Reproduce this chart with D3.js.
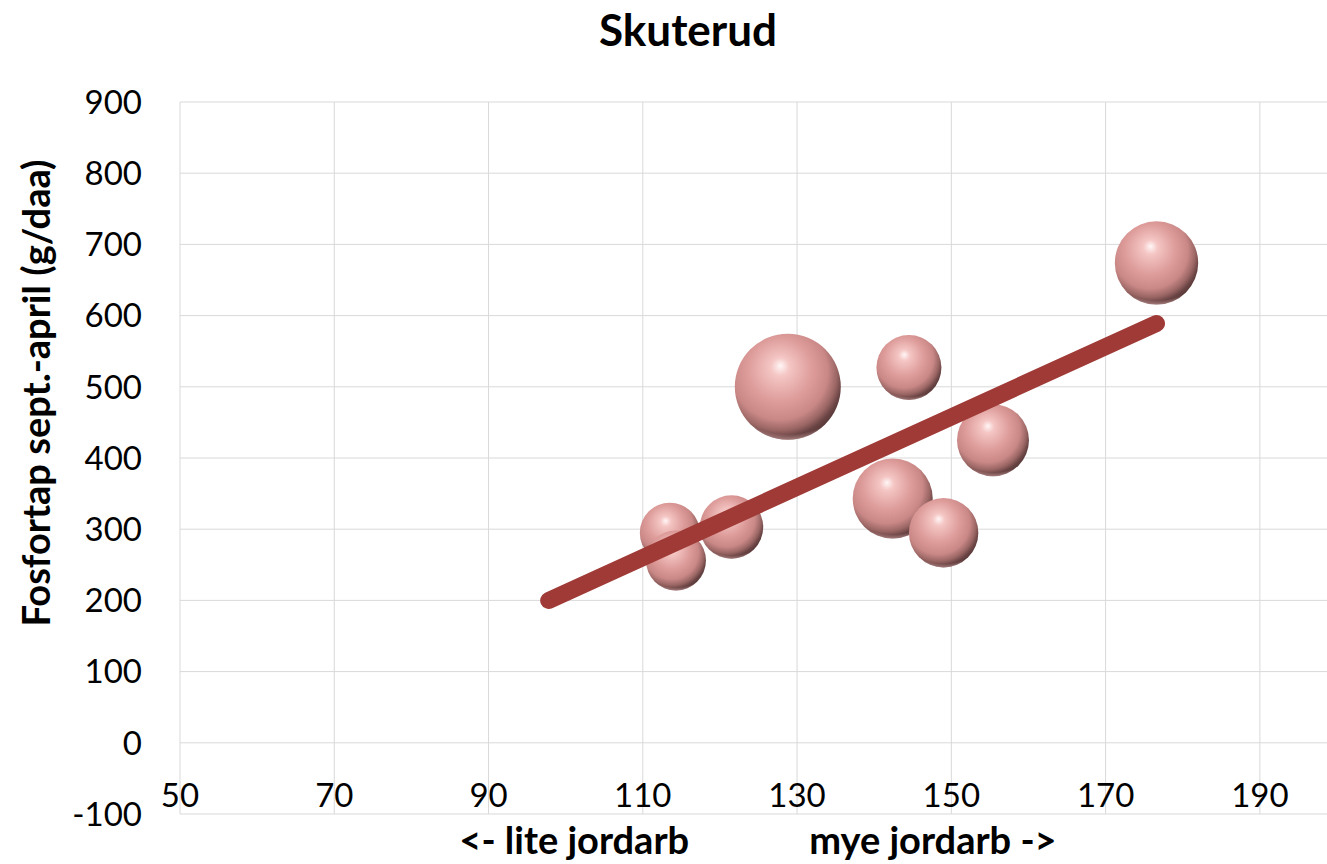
<!DOCTYPE html>
<html>
<head>
<meta charset="utf-8">
<script src="https://cdn.jsdelivr.net/npm/d3@7"></script>
<style>
  html, body { margin: 0; padding: 0; background: #fff; }
  svg { display: block; }
  text { font-family: Lato, "Open Sans", sans-serif; fill: #000; }
</style>
</head>
<body>
<svg id="chart" width="1327" height="864"></svg>
<script>
// ---- data ----
const title = "Skuterud";
const yTitle = "Fosfortap sept.-april (g/daa)";
const xTitle = "<- lite jordarb             mye jordarb ->";
const xTicks = [50, 70, 90, 110, 130, 150, 170, 190];
const yTicks = [-100, 0, 100, 200, 300, 400, 500, 600, 700, 800, 900];
const bubbleX = [128.8, 144.5, 113.5, 114.3, 121.5, 142.4, 149.0, 155.4, 176.6];
const bubbleY = [500, 527, 295, 256, 303, 343, 295, 425, 674];
const bubbleSize = [100, 37.6, 32, 32, 35.8, 57, 42.9, 46.1, 61.9];
const trendX = [97.8, 176.6];
const trendY = [200, 589];

// ---- layout ----
const svg = d3.select("#chart");
const x = d3.scaleLinear().domain([50, 200]).range([180, 1337]);
const y = d3.scaleLinear().domain([-100, 900]).range([814, 102]);
const r = d3.scaleSqrt().domain([0, d3.max(bubbleSize)]).range([0, 53]);

// gradient for 3D spheres
const defs = svg.append("defs");
const g1 = defs.append("radialGradient").attr("id", "sphere")
  .attr("cx", "0.42").attr("cy", "0.38").attr("r", "0.63")
  .attr("fx", "0.43").attr("fy", "0.3");
[[0, "#fff6f6"], [0.14, "#f4c6c4"], [0.5, "#dc9a98"], [0.72, "#c98886"], [0.86, "#9a6664"], [0.95, "#6a4444"], [1, "#5e3c3c"]]
  .forEach(([o, c]) => g1.append("stop").attr("offset", o).attr("stop-color", c));
const g2 = defs.append("radialGradient").attr("id", "rim")
  .attr("cx", "0.5").attr("cy", "0.2").attr("r", "0.85");
[[0, "rgba(255,210,210,0)"], [0.88, "rgba(255,210,210,0)"], [0.98, "rgba(245,185,185,0.75)"], [1, "rgba(245,185,185,0.9)"]]
  .forEach(([o, c]) => g2.append("stop").attr("offset", o).attr("stop-color", c));

// gridlines
const grid = svg.append("g");
grid.selectAll("line.h").data(yTicks).join("line")
  .attr("x1", x(50)).attr("x2", x(200))
  .attr("y1", d => y(d)).attr("y2", d => y(d))
  .attr("stroke", "#d9d9d9").attr("stroke-width", 1);
grid.selectAll("line.v").data(xTicks).join("line")
  .attr("x1", d => x(d)).attr("x2", d => x(d))
  .attr("y1", y(900)).attr("y2", y(-100))
  .attr("stroke", "#d9d9d9").attr("stroke-width", 1);

// y tick labels
svg.append("g").selectAll("text").data(yTicks).join("text")
  .attr("x", 142).attr("y", d => y(d))
  .attr("dy", "0.36em")
  .attr("text-anchor", "end")
  .style("font-size", "33px")
  .text(d => d);

// x tick labels
svg.append("g").selectAll("text").data(xTicks).join("text")
  .attr("x", d => x(d)).attr("y", 807)
  .attr("text-anchor", "middle")
  .style("font-size", "33px")
  .text(d => d);

// bubbles
const idx = d3.range(bubbleX.length).sort((a, b) => bubbleSize[b] - bubbleSize[a]);
const bub = svg.append("g").selectAll("g").data(idx).join("g");
bub.append("circle")
  .attr("cx", i => x(bubbleX[i])).attr("cy", i => y(bubbleY[i]))
  .attr("r", i => r(bubbleSize[i]))
  .attr("fill", "url(#sphere)");
bub.append("circle")
  .attr("cx", i => x(bubbleX[i])).attr("cy", i => y(bubbleY[i]))
  .attr("r", i => r(bubbleSize[i]))
  .attr("fill", "url(#rim)");

// trend line
svg.append("path")
  .datum(d3.range(trendX.length))
  .attr("d", d3.line().x(i => x(trendX[i])).y(i => y(trendY[i])))
  .attr("stroke", "#a03a36").attr("stroke-width", 17)
  .attr("stroke-linecap", "round").attr("fill", "none");

// titles
svg.append("text").attr("x", 688).attr("y", 46)
  .attr("text-anchor", "middle").style("font-size", "44px").style("font-weight", "bold")
  .text(title);
svg.append("text")
  .attr("transform", "translate(50,393) rotate(-90)")
  .attr("text-anchor", "middle").style("font-size", "38px").style("font-weight", "bold")
  .text(yTitle);
svg.append("text").attr("x", 758).attr("y", 854)
  .attr("text-anchor", "middle").attr("xml:space", "preserve")
  .style("white-space", "pre")
  .style("font-size", "38px").style("font-weight", "bold")
  .text(xTitle);
</script>
</body>
</html>
